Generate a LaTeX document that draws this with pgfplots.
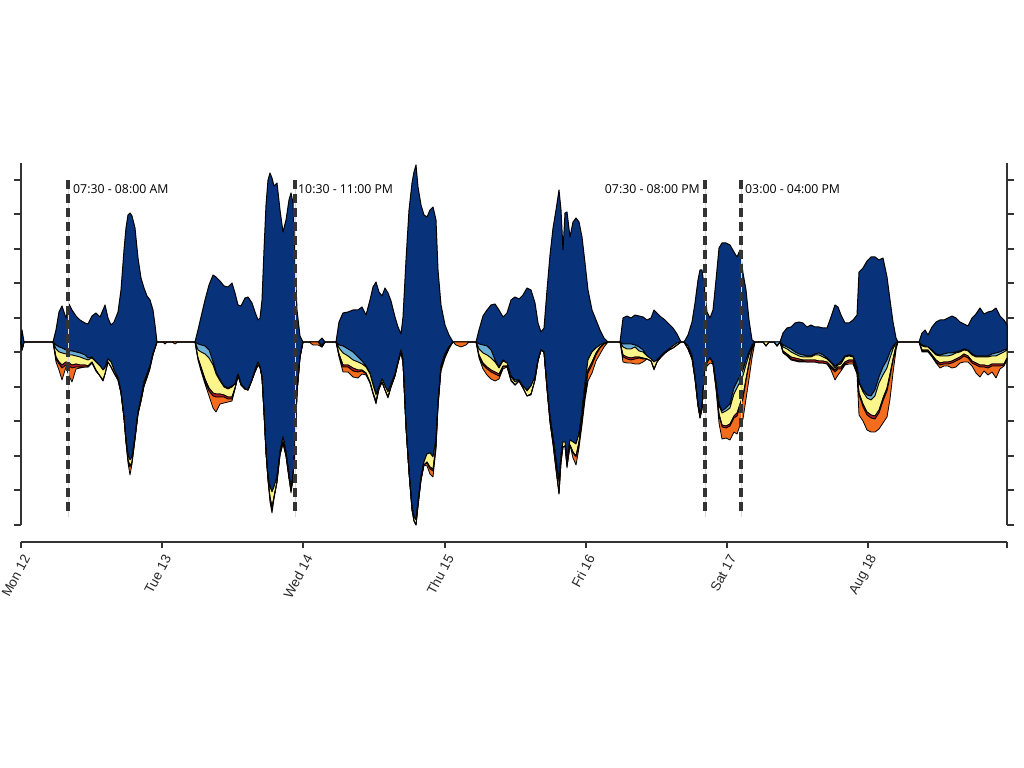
\documentclass[border=0pt]{standalone}
\usepackage{pgfplots}
\pgfplotsset{compat=1.18}
\usepackage{pgfplotstable}
\usepackage{fontspec}
\setmainfont{Liberation Sans}
\newfontfamily\annfont{Open Sans}
\definecolor{navy}{HTML}{08337A}
\definecolor{lblue}{HTML}{6BAED6}
\definecolor{pyell}{HTML}{FCF58C}
\definecolor{dred}{HTML}{B2182B}
\definecolor{orng}{HTML}{F46D1E}
\definecolor{axgray}{HTML}{333333}
\pgfplotstableread{
x up dn lb ye dr og
21 0 0 0 0 0 0
22 12 8 0 0 0 0
24 0 0 0 0 0 0
53 0 0 0 0 0 0
56 12 3 4 8 2 3
59 30 5 5 10 2 6
62 36 6 5 12 3 12
66 24 8 4 8 3 2
69 38 9 4 8 3 10
72 32 9 4 10 3 14
76 26 10 4 8 3 2
80 22 11 4 8 2 1
85 19 13 4 6 2 0
88 18 16 2 6 1 0
92 26 15 1 4 1 0
96 29 20 0 8 1 0
100 25 24 0 10 0 0
103 32 28 0 10 1 0
105 37 26 0 6 0 0
108 24 17 0 3 0 0
111 17 20 0 5 0 0
114 20 28 0 3 0 0
118 30 36 0 2 0 0
121 52 50 0 1 0 0
124 92 75 0 1 0 0
126 114 98 0 2 0 0
128 127 113 0 5 0 3
130 129 118 0 6 1 8
132 126 115 0 5 0 2
135 114 95 0 2 0 0
138 84 70 0 2 0 0
141 64 56 0 3 0 0
144 54 40 0 4 0 0
147 46 32 0 3 0 1
150 42 24 0 1 0 2
153 32 12 0 0 0 1
155 17 6 0 0 0 0
157 0 0 0 0 0 0
163 0 0 0 0 0 0
165 0 0 0 0 0 2
167 0 0 0 0 0 0
172 0 0 0 0 0 0
175 0 0 0 0 0 2
178 0 0 0 0 0 0
195 0 0 0 0 0 0
198 12 2 6 8 1 1
201 25 3 7 15 2 2
205 42 4 8 25 2 3
209 57 8 8 30 3 5
213 67 20 3 28 3 12
216 65 30 2 20 3 15
220 61 38 1 13 3 7
224 56 44 1 8 2 6
228 55 46 1 8 2 3
232 59 44 1 10 2 2
235 49 42 0 4 1 0
238 37 32 0 2 0 0
241 36 42 0 1 0 0
245 44 47 0 0 0 0
248 45 48 0 0 0 0
252 39 38 0 0 0 0
255 30 28 0 2 0 0
258 22 20 0 3 0 0
260 24 25 0 0 0 0
262 42 35 0 0 0 0
264 92 70 0 0 0 0
266 137 110 0 0 0 0
268 162 135 0 3 0 0
270 169 145 0 10 2 3
272 164 150 0 15 2 4
274 156 145 0 10 0 2
277 159 135 0 5 0 0
280 132 110 0 3 0 0
283 110 95 0 5 0 2
286 122 110 0 4 0 0
289 142 133 0 3 0 0
291 149 145 0 4 0 2
293 139 135 0 2 0 0
295 84 100 0 0 0 0
297 32 50 0 0 0 0
300 6 15 0 0 0 0
303 0 0 0 0 0 0
309 0 0 0 0 0 0
313 0 0 0 0 0 3
318 0 0 0 0 0 3
322 4 3 0 2 0 0
325 0 0 0 0 0 0
336 0 0 0 0 0 0
339 20 3 3 6 1 2
343 29 4 7 12 2 5
348 30 7 7 9 2 5
353 32 10 8 8 3 6
358 32 15 5 8 2 6
362 35 19 3 6 1 3
366 27 24 1 6 1 1
370 42 31 1 8 1 0
373 55 42 1 8 0 1
376 60 52 1 6 1 2
379 50 45 0 2 0 0
382 46 37 0 3 0 0
385 54 44 0 4 0 0
388 49 50 0 5 0 1
391 41 42 0 3 0 0
395 25 32 0 2 0 0
398 15 20 0 1 0 0
401 8 8 0 2 0 0
403 25 18 0 3 0 0
406 82 85 0 0 0 0
409 132 130 0 0 0 0
412 159 165 0 3 0 0
414 170 175 0 4 0 0
416 177 178 0 5 0 0
418 155 160 0 4 0 0
421 137 135 0 3 0 0
424 127 120 0 3 0 0
427 125 112 0 8 1 3
430 132 111 0 14 2 5
433 135 115 0 12 2 6
436 122 98 0 6 0 3
438 72 60 0 3 0 2
441 37 24 0 2 0 3
445 17 12 0 1 0 3
449 7 5 0 0 0 2
453 0 0 0 0 0 0
456 0 0 0 0 0 3
461 0 0 0 0 0 5
466 0 0 0 0 0 3
469 0 0 0 0 0 0
476 0 0 0 0 0 0
479 12 2 5 6 1 2
483 26 3 8 10 2 4
487 32 4 9 12 2 6
491 37 8 8 12 2 7
495 38 18 2 10 2 7
499 32 25 1 6 2 3
503 25 18 1 5 1 2
507 29 21 0 3 0 1
511 42 34 1 3 0 1
515 45 38 2 3 0 0
519 43 38 0 1 0 0
523 47 44 0 2 0 0
527 54 48 1 5 0 0
531 52 44 0 8 0 1
535 39 35 0 3 0 0
538 19 18 0 1 0 0
541 10 8 0 0 0 0
544 14 10 0 0 0 0
547 52 45 0 2 0 0
550 87 75 0 5 0 0
553 114 95 0 6 1 0
556 132 118 0 8 1 1
559 152 140 0 10 2 0
561 132 113 0 7 0 0
563 92 100 0 5 0 0
565 129 100 0 4 0 0
567 130 118 0 6 0 2
570 105 98 0 5 0 0
573 120 100 0 10 1 5
576 124 102 0 12 1 8
579 120 92 0 8 1 5
582 105 70 0 8 1 4
585 79 42 0 8 2 6
588 52 18 0 10 3 8
592 32 10 0 10 3 8
596 22 6 0 5 2 6
600 12 3 0 2 1 6
604 4 1 0 1 0 3
608 0 0 0 0 0 0
620 0 0 0 0 0 0
623 24 2 3 8 2 5
627 26 2 5 8 2 4
631 24 2 5 9 2 3
635 27 3 2 10 2 5
639 26 5 4 6 1 6
643 25 8 2 6 1 3
647 22 14 0 3 0 0
651 24 17 0 2 0 0
654 32 20 0 7 0 1
657 29 18 0 2 0 0
661 25 14 0 1 0 0
665 22 10 0 1 0 0
669 18 7 0 1 0 0
673 14 4 0 2 0 0
677 8 1 0 2 0 0
681 0 0 0 0 0 0
684 0 0 0 0 0 0
688 7 4 0 3 0 0
692 20 14 0 3 0 0
695 39 35 0 2 0 0
698 62 62 0 2 0 0
700 72 72 0 4 0 0
702 72 65 0 2 0 0
704 57 35 0 1 0 1
707 30 20 0 1 0 3
710 24 16 0 0 0 5
713 32 20 0 2 0 0
716 62 41 1 4 0 0
719 94 62 2 8 1 8
722 99 69 2 12 2 12
726 99 66 3 15 2 10
730 97 62 4 16 2 14
734 90 46 6 22 2 14
737 85 40 6 25 3 18
740 92 34 6 22 3 18
743 69 28 6 20 3 20
746 52 18 5 14 2 18
749 22 10 3 8 2 14
752 2 3 1 3 1 8
755 0 0 0 0 0 0
763 0 0 0 0 0 0
766 0 0 0 4 0 0
769 0 0 0 0 0 0
774 0 0 0 0 0 0
777 0 0 4 0 0 0
780 0 0 0 0 0 0
783 9 3 2 4 1 1
787 14 5 2 5 1 1
791 15 7 3 5 2 1
795 19 10 2 4 2 1
799 20 12 2 3 2 1
803 19 13 2 3 1 1
807 15 14 1 3 2 0
811 17 14 1 3 2 0
815 15 12 1 5 2 0
819 15 11 2 6 2 0
823 14 13 2 4 2 0
827 14 16 1 3 2 0
831 25 20 1 3 2 2
835 37 24 2 2 2 8
838 35 22 1 2 2 6
841 27 20 2 3 2 2
845 19 14 1 5 2 1
849 19 13 1 4 2 2
853 22 14 1 3 2 2
857 27 25 1 3 1 2
859 70 40 1 10 2 20
863 74 48 2 12 3 14
867 81 53 3 14 3 15
871 85 54 4 15 3 14
875 85 48 6 20 3 13
879 82 35 6 27 3 16
883 84 25 8 23 3 22
887 65 18 8 20 3 26
890 42 10 6 16 3 22
893 20 4 3 10 2 12
896 4 1 0 3 0 4
898 0 0 0 0 0 0
919 0 0 0 0 0 0
922 9 3 1 4 1 1
925 12 4 1 3 1 1
928 7 5 0 3 1 1
932 15 8 1 4 1 1
936 20 12 1 5 2 1
940 22 13 1 7 2 3
944 22 12 2 6 2 2
948 24 11 3 6 2 2
952 26 11 2 6 2 5
956 24 10 1 6 2 6
960 20 9 1 5 2 4
964 18 7 1 4 2 6
968 16 8 1 5 2 4
972 24 12 1 6 2 3
976 28 14 1 6 2 8
980 34 14 1 8 2 10
984 28 14 1 8 2 4
988 30 14 1 9 2 7
992 31 12 2 8 2 6
996 34 11 3 8 2 12
1000 26 10 2 10 2 3
1004 22 8 2 12 1 1
1007 17 7 1 8 1 1
}\stream
\begin{document}
\begin{tikzpicture}
\useasboundingbox (0,0) rectangle (1024bp,768bp);
\begin{axis}[at={(21bp,243bp)}, anchor=south west, scale only axis,
  width=986bp, height=362bp,
  xmin=21, xmax=1007, ymin=-183, ymax=179, clip=false,
  stack plots=y,
  separate axis lines,
  every outer x axis line/.append style={draw=none},
  every outer y axis line/.append style={line width=2.5bp, axgray},
  xtick=\empty,
  ytick={-183,-148.5,-114,-79.5,-45,-10.5,24,58.5,93,127.5,162},
  yticklabels={},
  tick align=outside, major tick length=7bp,
  every tick/.style={line width=2bp, axgray},
  line join=round,
]
\addplot[draw=none, forget plot] table[x=x, y expr={-(\thisrow{dn}+\thisrow{lb}+\thisrow{ye}+\thisrow{dr}+\thisrow{og})}] {\stream};
\addplot[fill=orng, draw=black, line width=0.8bp] table[x=x, y=og] {\stream} \closedcycle;
\addplot[fill=dred, draw=black, line width=0.8bp] table[x=x, y=dr] {\stream} \closedcycle;
\addplot[fill=pyell, draw=black, line width=0.8bp] table[x=x, y=ye] {\stream} \closedcycle;
\addplot[fill=lblue, draw=black, line width=0.8bp] table[x=x, y=lb] {\stream} \closedcycle;
\addplot[fill=navy, draw=black, line width=1bp] table[x=x, y expr={\thisrow{dn}+\thisrow{up}}] {\stream} \closedcycle;
\node[anchor=west, inner sep=0, font=\annfont\fontsize{12.3bp}{14bp}\selectfont] at (axis cs:73,153) {07:30 - 08:00 AM};
\node[anchor=west, inner sep=0, font=\annfont\fontsize{12.3bp}{14bp}\selectfont] at (axis cs:298,153) {10:30 - 11:00 PM};
\node[anchor=east, inner sep=0, font=\annfont\fontsize{12.3bp}{14bp}\selectfont] at (axis cs:700,153) {07:30 - 08:00 PM};
\node[anchor=west, inner sep=0, font=\annfont\fontsize{12.3bp}{14bp}\selectfont] at (axis cs:745,153) {03:00 - 04:00 PM};
\end{axis}
% dashed time-window markers (1 unit = 1bp; pixel row p -> 768-p)
\foreach \xx in {68,295,705,741}{
  \fill[gray!30] ({(\xx-0.35)*1bp},{(768-180)*1bp}) rectangle ({(\xx+0.35)*1bp},{(768-517)*1bp});
  \foreach \yy in {180,194,...,508}{
    \fill[black!80] ({(\xx-1.6)*1bp},{(768-\yy)*1bp}) rectangle ({(\xx+1.6)*1bp},{(768-\yy-9)*1bp});
  }
}
\begin{axis}[at={(21bp,226bp)}, anchor=south west, scale only axis,
  width=986bp, height=20bp,
  xmin=21, xmax=1007, ymin=0, ymax=1,
  hide y axis, axis x line*=bottom,
  x axis line style={line width=2.5bp, axgray},
  xtick={21,162.2,303.4,444.6,585.8,727,868.2,1007},
  xticklabels={Mon 12,Tue 13,Wed 14,Thu 15,Fri 16,Sat 17,Aug 18,{}},
  tick align=outside, major tick length=6bp,
  every tick/.style={line width=2bp, axgray},
  xticklabel style={xshift=6bp, yshift=-7bp, rotate=62, anchor=east, font=\fontsize{13.5bp}{15bp}\selectfont, text=black!85, inner sep=1bp},
]
\end{axis}
\end{tikzpicture}
\end{document}
